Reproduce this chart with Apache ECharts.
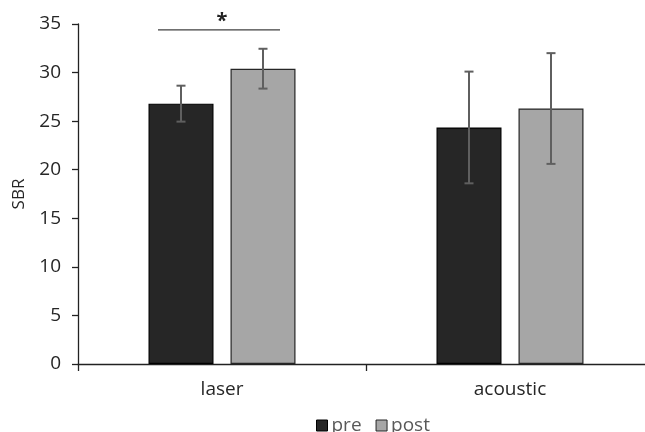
<!DOCTYPE html>
<html>
<head>
<meta charset="utf-8">
<script src="https://cdn.jsdelivr.net/npm/echarts@6/dist/echarts.min.js"></script>
<style>html,body{margin:0;padding:0;background:#fff;overflow:hidden}#c{width:660px;height:432px}</style>
</head>
<body>
<div id="c"></div>
<script>
var categories = ['laser', 'acoustic'];
var seriesNames = ['pre', 'post'];
var preMean = [26.8, 24.35];
var preSD = [1.85, 5.75];
var postMean = [30.4, 26.3];
var postSD = [2.05, 5.7];
var yTicks = [0, 5, 10, 15, 20, 25, 30, 35];
var sigBar = {category: 0, value: 34.4, label: '*'};

var FONT = 'Open Sans';
var BW = 65, GAP = 17;
var OFF = (BW + GAP) / 2;

function errData(means, sds, idx) {
  return means.map(function (m, i) { return [i, m - sds[i], m + sds[i], idx]; });
}

function renderErr(params, api) {
  var ci = api.value(0), lo = api.value(1), hi = api.value(2), sIdx = api.value(3);
  var dx = sIdx === 0 ? -OFF : OFF;
  var pLo = api.coord([ci, lo]), pHi = api.coord([ci, hi]);
  var x = pLo[0] + dx, cap = 4.5;
  var st = {stroke: '#5f5f5f', lineWidth: 2};
  return {type: 'group', children: [
    {type: 'line', shape: {x1: x, y1: pLo[1], x2: x, y2: pHi[1]}, style: st},
    {type: 'line', shape: {x1: x - cap, y1: pLo[1], x2: x + cap, y2: pLo[1]}, style: st},
    {type: 'line', shape: {x1: x - cap, y1: pHi[1], x2: x + cap, y2: pHi[1]}, style: st}
  ]};
}

function renderSig(params, api) {
  var p = api.coord([api.value(0), api.value(1)]);
  return {type: 'group', children: [
    {type: 'line', shape: {x1: p[0] - 64, y1: p[1], x2: p[0] + 58, y2: p[1]}, style: {stroke: '#404040', lineWidth: 1.2}},
    {type: 'text', style: {x: p[0], y: p[1] + 1, text: sigBar.label, fill: '#222', font: 'bold 20px ' + FONT, textAlign: 'center', textVerticalAlign: 'bottom'}}
  ]};
}

var chart = echarts.init(document.getElementById('c'), null, {renderer: 'canvas'});
chart.setOption({
  animation: false,
  backgroundColor: '#fff',
  grid: {left: 78, top: 24, width: 576, height: 340},
  legend: {
    data: [
      {name: seriesNames[0], itemStyle: {color: '#262626', borderColor: '#000', borderWidth: 1}},
      {name: seriesNames[1], itemStyle: {color: '#a6a6a6', borderColor: '#262626', borderWidth: 1}}
    ],
    left: 311, top: 411, itemWidth: 11, itemHeight: 11, itemGap: 14, icon: 'rect',
    textStyle: {color: '#595959', fontSize: 19, fontFamily: FONT, padding: [0, 0, 0, -1]}
  },
  xAxis: {
    type: 'category', data: categories,
    axisLine: {lineStyle: {color: '#222', width: 1.3}},
    axisTick: {show: true, length: 7, lineStyle: {color: '#222', width: 1.3}},
    axisLabel: {color: '#262626', fontSize: 19, fontFamily: FONT, margin: 16},
    splitLine: {show: false}
  },
  yAxis: {
    type: 'value', min: yTicks[0], max: yTicks[yTicks.length - 1], interval: 5,
    name: 'SBR', nameLocation: 'middle', nameGap: 50, nameRotate: 90,
    nameTextStyle: {color: '#262626', fontSize: 17, fontFamily: FONT},
    axisLine: {show: true, lineStyle: {color: '#222', width: 1.3}},
    axisTick: {show: true, length: 6, lineStyle: {color: '#222', width: 1.3}},
    axisLabel: {color: '#262626', fontSize: 19, fontFamily: FONT, margin: 17},
    splitLine: {show: false}
  },
  series: [
    {name: seriesNames[0], type: 'bar', data: preMean, barWidth: BW, barGap: (GAP / BW * 100) + '%',
      itemStyle: {color: '#262626', borderColor: '#000', borderWidth: 1.2}},
    {name: seriesNames[1], type: 'bar', data: postMean, barWidth: BW,
      itemStyle: {color: '#a6a6a6', borderColor: '#262626', borderWidth: 1.2}},
    {type: 'custom', name: 'err', data: errData(preMean, preSD, 0).concat(errData(postMean, postSD, 1)),
      renderItem: renderErr, z: 10, encode: {x: 0, y: [1, 2]}},
    {type: 'custom', name: 'sig', data: [[sigBar.category, sigBar.value]], renderItem: renderSig, z: 10, clip: false}
  ]
});
</script>
</body>
</html>
